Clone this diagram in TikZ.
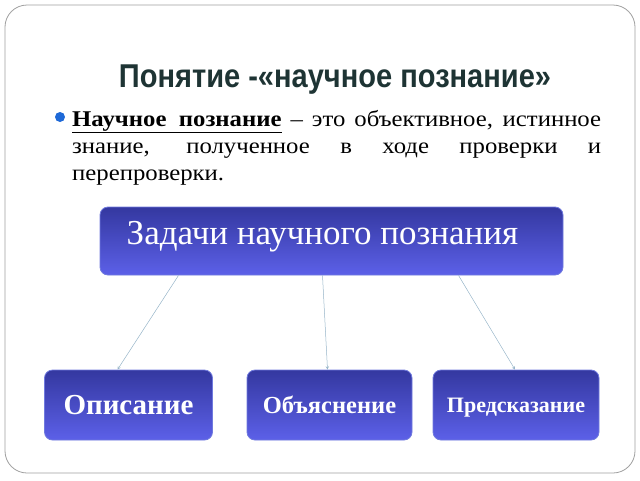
\documentclass[tikz,border=0pt]{standalone}
\usepackage{fontspec}
\setmainfont{Liberation Serif}
\newfontfamily\titlefont[FakeStretch=0.88]{Liberation Sans}
\newfontfamily\bodyfont[FakeStretch=1.1]{Liberation Serif}
\usetikzlibrary{arrows, shapes}
\definecolor{boxtop}{RGB}{52,56,160}
\definecolor{boxbot}{RGB}{92,96,232}
\definecolor{boxline}{RGB}{112,122,222}
\definecolor{linkcol}{RGB}{150,180,200}
\definecolor{titlecol}{RGB}{30,52,52}
\definecolor{dotcol}{RGB}{30,105,215}

\begin{document}
\begin{tikzpicture}[x=1pt,y=-1pt,
		box/.style={draw=boxline, line width=0.8pt, rounded corners=8pt,
			top color=boxtop, bottom color=boxbot, text=white, inner sep=0pt},
		link/.style={->, >=stealth, draw=linkcol, line width=0.5pt}]
		\useasboundingbox (0,0) rectangle (640,480);
		\draw[gray!75, line width=0.8pt, rounded corners=22pt] (5,5) rectangle (635,473);
		
		\node[anchor=base, text=titlecol,
		font=\titlefont\bfseries\fontsize{33}{38}\selectfont,
		] (title) at (335,87) {Понятие -«научное познание»};
		\node[circle, fill=dotcol, minimum size=10pt, inner sep=0pt] (dot) at (60,117) {};
		\node[
		anchor=base west, text width=529pt, align=justify, inner sep=0pt,
		font=\bodyfont\fontsize{22.5}{27.3}\selectfont,
		] (defn) at (72,126) {\underline{\textbf{Научное\ \ познание}} – это объективное, истинное знание, полученное в ходе проверки и перепроверки.};
		
		\node[box, minimum width=463pt, minimum height=68pt, text depth=16pt,
		font=\fontsize{35}{40}\selectfont] (task) at (331.5,241) {Задачи научного познания\hspace*{18pt}};
		\node[box, minimum width=168pt, minimum height=70pt, text depth=0pt,
		font=\bfseries\fontsize{29}{34}\selectfont] (opis) at (128.5,405) {Описание};
		\node[box, minimum width=165pt, minimum height=70pt, text depth=0pt,
		font=\bfseries\fontsize{24.5}{29}\selectfont] (obya) at (329.5,405) {Объяснение};
		\node[box, minimum width=166pt, minimum height=70pt, text depth=0pt,
		font=\bfseries\fontsize{22}{26}\selectfont] (pred) at (516,405) {Предсказание};
		
		\draw[link] ([xshift=-153pt]task.south) -- ([xshift=-11pt]opis.north);
		\draw[link] ([xshift=-9pt]task.south) -- ([xshift=-2pt]obya.north);
		\draw[link] ([xshift=127pt]task.south) -- ([xshift=-1pt]pred.north);
\end{tikzpicture}
\end{document}
